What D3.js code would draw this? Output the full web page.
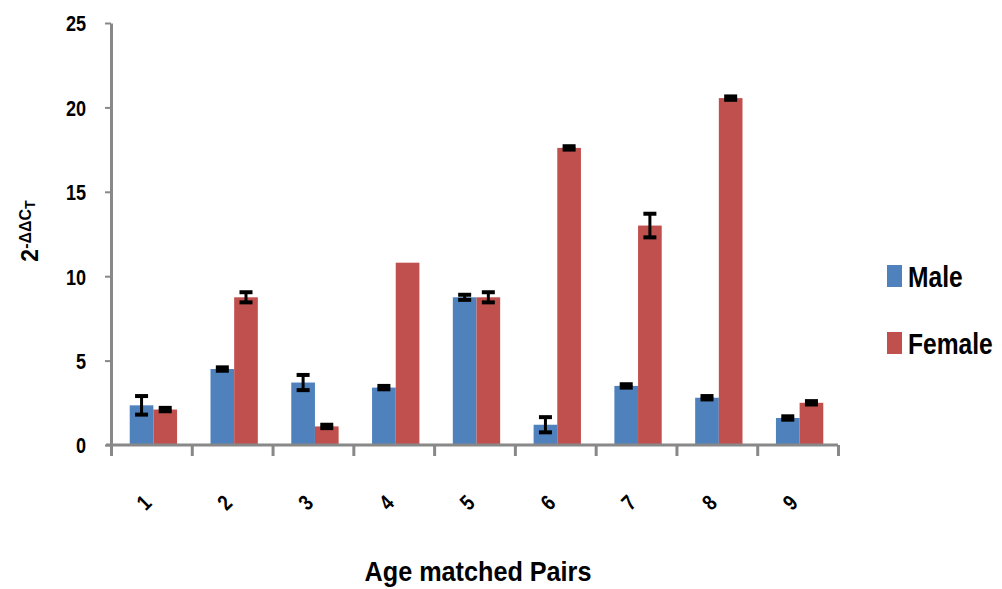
<!DOCTYPE html>
<html>
<head>
<meta charset="utf-8">
<script src="https://cdn.jsdelivr.net/npm/d3@7"></script>
<style>
  html, body { margin: 0; padding: 0; background: #fff; }
  svg { display: block; }
  text { font-family: "Liberation Sans", Arial, sans-serif; font-weight: bold; fill: #000; }
</style>
</head>
<body>
<svg id="chart" width="1002" height="589"></svg>
<script>
// Relative expression (2^-ΔΔCT) per age-matched pair
const pairs = ["1", "2", "3", "4", "5", "6", "7", "8", "9"];
const seriesNames = ["Male", "Female"];
const maleValues   = [2.35, 4.5, 3.7, 3.4, 8.75, 1.2, 3.5, 2.8, 1.6];
const maleErrors   = [0.55, 0.1, 0.45, 0.1, 0.15, 0.45, 0.1, 0.1, 0.1];
const femaleValues = [2.1, 8.75, 1.1, 10.8, 8.75, 17.6, 13.0, 20.55, 2.5];
const femaleErrors = [0.1, 0.3, 0.1, 0, 0.3, 0.1, 0.7, 0.1, 0.1];
const yTicks = [0, 5, 10, 15, 20, 25];
const colors = ["#4F81BD", "#C0504D"];

const svg = d3.select("#chart");
const plot = { left: 111, right: 838, top: 23, bottom: 445 };

// Narrow the glyphs of a text selection horizontally, keeping its anchor
function condense(sel, k) {
  sel.each(function () {
    const len = this.getComputedTextLength();
    d3.select(this).attr("textLength", len * k).attr("lengthAdjust", "spacingAndGlyphs");
  });
}

const y = d3.scaleLinear().domain([0, 25]).range([plot.bottom, plot.top]);
const x = d3.scaleBand().domain(pairs).range([plot.left + 2, plot.right + 2])
  .paddingInner(0.414).paddingOuter(0.207);
const xSub = d3.scaleBand().domain(seriesNames).range([0, x.bandwidth()]);
const xEdges = d3.scaleLinear().domain([0, pairs.length]).range([plot.left, plot.right]);

const rows = pairs.map((p, i) => ({
  pair: p,
  items: [
    { name: "Male", value: maleValues[i], err: maleErrors[i] },
    { name: "Female", value: femaleValues[i], err: femaleErrors[i] }
  ]
}));
const color = d3.scaleOrdinal().domain(seriesNames).range(colors);

// Bars
const groups = svg.append("g").selectAll("g").data(rows).join("g")
  .attr("transform", d => `translate(${x(d.pair)},0)`);
groups.selectAll("rect").data(d => d.items).join("rect")
  .attr("x", d => xSub(d.name))
  .attr("width", xSub.bandwidth())
  .attr("y", d => y(d.value))
  .attr("height", d => y(0) - y(d.value))
  .attr("fill", d => color(d.name));

// Error bars
const eb = groups.selectAll("g.err").data(d => d.items.filter(it => it.err > 0)).join("g")
  .attr("class", "err")
  .attr("transform", d => `translate(${xSub(d.name) + xSub.bandwidth() / 2},0)`);
eb.append("line")
  .attr("y1", d => y(d.value + d.err)).attr("y2", d => y(d.value - d.err))
  .attr("stroke", "#000").attr("stroke-width", 3);
eb.append("line")
  .attr("x1", -6.5).attr("x2", 6.5)
  .attr("y1", d => y(d.value + d.err)).attr("y2", d => y(d.value + d.err))
  .attr("stroke", "#000").attr("stroke-width", 4);
eb.append("line")
  .attr("x1", -6.5).attr("x2", 6.5)
  .attr("y1", d => y(d.value - d.err)).attr("y2", d => y(d.value - d.err))
  .attr("stroke", "#000").attr("stroke-width", 4);

// Y axis
const yAxis = svg.append("g").attr("transform", `translate(${plot.left},0)`)
  .call(d3.axisLeft(y).tickValues(yTicks).tickSize(6).tickSizeOuter(0).tickPadding(19));
yAxis.select(".domain").attr("stroke", "#888").attr("stroke-width", 3);
yAxis.selectAll(".tick line").attr("stroke", "#888").attr("stroke-width", 2);
yAxis.selectAll(".tick text").style("font-size", "22px").attr("dy", "0.36em")
  .call(condense, 0.82);

// X axis: boundary ticks
const xAxis = svg.append("g").attr("transform", `translate(0,${plot.bottom})`)
  .call(d3.axisBottom(xEdges).ticks(pairs.length).tickFormat("").tickSize(11).tickSizeOuter(0));
xAxis.select(".domain").attr("stroke", "#888").attr("stroke-width", 3)
  .attr("d", `M${plot.left - 5},0H${plot.right}`);
xAxis.selectAll(".tick line").attr("stroke", "#888").attr("stroke-width", 3);

// X axis: category labels, rotated
const xLabels = svg.append("g").attr("transform", `translate(0,${plot.bottom})`)
  .call(d3.axisBottom(x).tickSize(0).tickPadding(0));
xLabels.select(".domain").remove();
xLabels.selectAll(".tick text")
  .style("font-size", "22px")
  .attr("y", 0).attr("dy", 0)
  .attr("text-anchor", "middle")
  .attr("transform", "translate(-4,63) rotate(-45)")
  .call(condense, 0.82);

// Axis titles
svg.append("text")
  .attr("x", 478).attr("y", 581)
  .attr("text-anchor", "middle")
  .style("font-size", "28px")
  .text("Age matched Pairs")
  .call(condense, 0.9);

const yTitle = svg.append("text")
  .attr("transform", "translate(38,231) rotate(-90)")
  .attr("text-anchor", "middle")
  .style("font-size", "23px");
yTitle.append("tspan").text("2");
yTitle.append("tspan").attr("dy", "-0.45em").style("font-size", "16px").text("-ΔΔC");
yTitle.append("tspan").attr("dy", "0.3em").style("font-size", "14px").text("T");

// Legend (labels narrowed with a horizontal scale)
const legend = svg.append("g").selectAll("g").data(seriesNames).join("g")
  .attr("transform", (d, i) => `translate(887,${265 + i * 67})`);
legend.append("rect").attr("width", 15).attr("height", 22).attr("fill", d => color(d));
legend.append("text")
  .attr("transform", "translate(21,22) scale(0.82,1)")
  .style("font-size", "30px").text(d => d);
</script>
</body>
</html>
